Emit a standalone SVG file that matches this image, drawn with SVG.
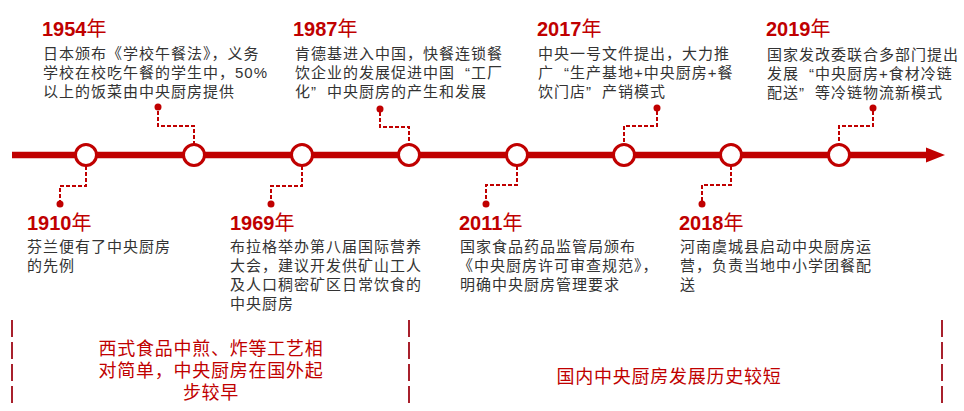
<svg xmlns="http://www.w3.org/2000/svg" width="964" height="411" viewBox="0 0 964 411">
<style>
.year{font-family:"Liberation Sans","Noto Sans CJK SC",sans-serif;font-size:20px;font-weight:bold;fill:#c00000}
.year .n{font-family:"Noto Sans CJK SC",sans-serif;font-weight:normal;font-size:20px}
.desc{font-family:"Liberation Sans","Noto Sans CJK SC",sans-serif;font-size:15px;letter-spacing:1px;fill:#333333}
.cq{letter-spacing:11px}
.conn{fill:none;stroke:#c00000;stroke-width:2;stroke-dasharray:4 2}
.dot{fill:#c00000}
.node{fill:#ffffff;stroke:#c00000;stroke-width:3}
.sep{stroke:#a8202c;stroke-width:2;stroke-dasharray:17 5}
.band{font-family:"Liberation Sans","Noto Sans CJK SC",sans-serif;font-size:18px;letter-spacing:0.75px;fill:#c00000;text-anchor:middle}
</style>
<rect width="964" height="411" fill="#ffffff"/>
<g id="timeline">
<line x1="12" y1="155" x2="930" y2="155" stroke="#c00000" stroke-width="6.5"/>
<polygon points="926,147.5 945,155 926,162.5" fill="#c00000"/>
</g>
<g id="connectors">
<path class="conn" d="M86 166 V186 H60 V201"/>
<circle class="dot" cx="60" cy="204" r="3.5"/>
<path class="conn" d="M158 111 V126 H194 V144"/>
<circle class="dot" cx="158" cy="107" r="3.5"/>
<path class="conn" d="M302 166 V186 H271 V201"/>
<circle class="dot" cx="271" cy="204" r="3.5"/>
<path class="conn" d="M380 112 V127 H409 V144"/>
<circle class="dot" cx="380" cy="109" r="3.5"/>
<path class="conn" d="M517 166 V185 H486 V201"/>
<circle class="dot" cx="486" cy="204" r="3.5"/>
<path class="conn" d="M657 111 V126 H624 V144"/>
<circle class="dot" cx="657" cy="108" r="3.5"/>
<path class="conn" d="M731 166 V185 H702 V201"/>
<circle class="dot" cx="702" cy="204" r="3.5"/>
<path class="conn" d="M873 111 V126 H839 V144"/>
<circle class="dot" cx="873" cy="108" r="3.5"/>
</g>
<g id="node-1910">
<circle class="node" cx="86" cy="155" r="10.5"/>
<text class="year" x="27" y="230">1910<tspan class="n">年</tspan></text>
<text class="desc" x="27" y="252"><tspan x="27">芬兰便有了中央厨房</tspan><tspan x="27" dy="19">的先例</tspan></text>
</g>
<g id="node-1954">
<circle class="node" cx="194" cy="155" r="10.5"/>
<text class="year" x="42" y="36">1954<tspan class="n">年</tspan></text>
<text class="desc" x="43" y="59"><tspan x="43">日本颁布《学校午餐法》，义务</tspan><tspan x="43" dy="19">学校在校吃午餐的学生中，50%</tspan><tspan x="43" dy="19">以上的饭菜由中央厨房提供</tspan></text>
</g>
<g id="node-1969">
<circle class="node" cx="302" cy="155" r="10.5"/>
<text class="year" x="230" y="230">1969<tspan class="n">年</tspan></text>
<text class="desc" x="230" y="252"><tspan x="230">布拉格举办第八届国际营养</tspan><tspan x="230" dy="19">大会，建议开发供矿山工人</tspan><tspan x="230" dy="19">及人口稠密矿区日常饮食的</tspan><tspan x="230" dy="19">中央厨房</tspan></text>
</g>
<g id="node-1987">
<circle class="node" cx="409" cy="155" r="10.5"/>
<text class="year" x="293" y="36">1987<tspan class="n">年</tspan></text>
<text class="desc" x="295" y="59"><tspan x="295">肯德基进入中国，快餐连锁餐</tspan><tspan x="295" dy="19">饮企业的发展促进中国<tspan dx="10">“</tspan>工厂</tspan><tspan x="295" dy="19">化<tspan class="cq">”</tspan>中央厨房的产生和发展</tspan></text>
</g>
<g id="node-2011">
<circle class="node" cx="517" cy="155" r="10.5"/>
<text class="year" x="459" y="230">2011<tspan class="n">年</tspan></text>
<text class="desc" x="460" y="252"><tspan x="460">国家食品药品监管局颁布</tspan><tspan x="458" dy="19">《中央厨房许可审查规范》，</tspan><tspan x="460" dy="19">明确中央厨房管理要求</tspan></text>
</g>
<g id="node-2017">
<circle class="node" cx="624" cy="155" r="10.5"/>
<text class="year" x="537" y="36">2017<tspan class="n">年</tspan></text>
<text class="desc" x="538" y="59"><tspan x="538">中央一号文件提出，大力推</tspan><tspan x="538" dy="19">广<tspan dx="10">“</tspan>生产基地+中央厨房+餐</tspan><tspan x="538" dy="19">饮门店<tspan class="cq">”</tspan>产销模式</tspan></text>
</g>
<g id="node-2018">
<circle class="node" cx="731" cy="155" r="10.5"/>
<text class="year" x="679" y="230">2018<tspan class="n">年</tspan></text>
<text class="desc" x="680" y="252"><tspan x="680">河南虞城县启动中央厨房运</tspan><tspan x="680" dy="19">营，负责当地中小学团餐配</tspan><tspan x="680" dy="19">送</tspan></text>
</g>
<g id="node-2019">
<circle class="node" cx="839" cy="155" r="10.5"/>
<text class="year" x="766" y="36">2019<tspan class="n">年</tspan></text>
<text class="desc" x="767" y="60"><tspan x="767">国家发改委联合多部门提出</tspan><tspan x="767" dy="19">发展<tspan dx="10">“</tspan>中央厨房+食材冷链</tspan><tspan x="767" dy="19">配送<tspan class="cq">”</tspan>等冷链物流新模式</tspan></text>
</g>
<g id="bands">
<line class="sep" x1="12" y1="320" x2="12" y2="404"/>
<line class="sep" x1="409" y1="320" x2="409" y2="404"/>
<line class="sep" x1="942" y1="320" x2="942" y2="404"/>
<text class="band" x="211" y="355"><tspan x="211">西式食品中煎、炸等工艺相</tspan><tspan x="211" dy="22">对简单，中央厨房在国外起</tspan><tspan x="211" dy="22">步较早</tspan></text>
<text class="band" x="669" y="383">国内中央厨房发展历史较短</text>
</g>
</svg>
